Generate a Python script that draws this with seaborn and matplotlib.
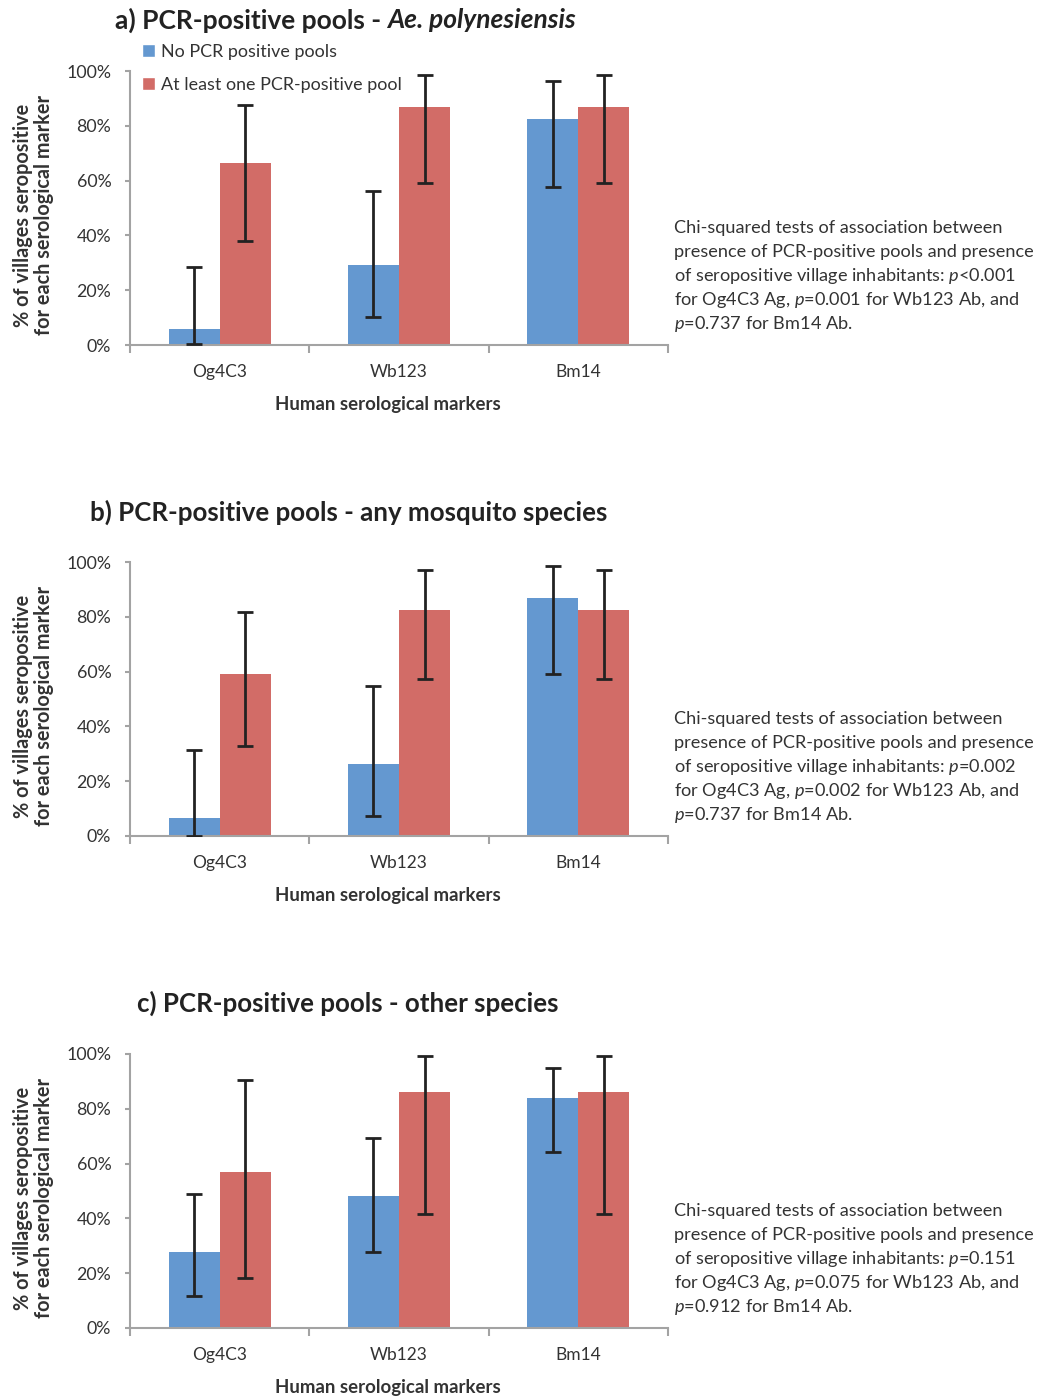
import numpy as np
import pandas as pd
import matplotlib
matplotlib.use("Agg")
import matplotlib.pyplot as plt
from matplotlib.patches import Patch
from matplotlib.ticker import FixedLocator, PercentFormatter
import seaborn as sns

sns.set_style("white")
plt.rcParams['font.family'] = ['Lato', 'DejaVu Sans']
plt.rcParams['mathtext.fontset'] = 'custom'
plt.rcParams['mathtext.rm'] = 'Lato'
plt.rcParams['mathtext.it'] = 'Lato:italic'
plt.rcParams['mathtext.bf'] = 'Lato:bold'

markers = ['Og4C3', 'Wb123', 'Bm14']
groups = ['No PCR positive pools', 'At least one PCR-positive pool']

# % seropositive villages, with lower / upper confidence limits
a_none = [5.9, 29.3, 82.4]
a_none_lo = [0.2, 10.4, 57.6]
a_none_hi = [28.3, 56.2, 96.3]
a_pos = [66.3, 86.8, 86.8]
a_pos_lo = [37.8, 59.1, 59.1]
a_pos_hi = [87.6, 98.5, 98.5]

b_none = [6.6, 26.3, 86.8]
b_none_lo = [0.0, 7.3, 59.1]
b_none_hi = [31.5, 54.8, 98.5]
b_pos = [59.1, 82.4, 82.4]
b_pos_lo = [32.9, 57.2, 57.2]
b_pos_hi = [81.7, 97.2, 97.2]

c_none = [27.7, 48.2, 83.9]
c_none_lo = [11.7, 27.8, 64.3]
c_none_hi = [48.9, 69.4, 94.8]
c_pos = [57.0, 86.2, 86.2]
c_pos_lo = [18.4, 41.6, 41.6]
c_pos_hi = [90.4, 99.3, 99.3]

pvals_a = [r'$\mathit{p}$<0.001', r'$\mathit{p}$=0.001', r'$\mathit{p}$=0.737']
pvals_b = [r'$\mathit{p}$=0.002', r'$\mathit{p}$=0.002', r'$\mathit{p}$=0.737']
pvals_c = [r'$\mathit{p}$=0.151', r'$\mathit{p}$=0.075', r'$\mathit{p}$=0.912']

blue = '#6498d0'
red = '#d26c67'
grey = '#a3a3a3'
txt = '#333333'

W, H = 1053, 1399
fig = plt.figure(figsize=(W / 100, H / 100), dpi=100)

panels = [
    (a_none, a_none_lo, a_none_hi, a_pos, a_pos_lo, a_pos_hi, pvals_a, 345),
    (b_none, b_none_lo, b_none_hi, b_pos, b_pos_lo, b_pos_hi, pvals_b, 836),
    (c_none, c_none_lo, c_none_hi, c_pos, c_pos_lo, c_pos_hi, pvals_c, 1328),
]

axes = []
for none, none_lo, none_hi, pos, pos_lo, pos_hi, pv, ybot in panels:
    ax = fig.add_axes([130 / W, 1 - ybot / H, 538 / W, 274 / H])
    axes.append(ax)
    df = pd.DataFrame({
        'marker': markers * 2,
        'group': [groups[0]] * 3 + [groups[1]] * 3,
        'value': np.array(none + pos) / 100,
    })
    sns.barplot(data=df, x='marker', y='value', hue='group', order=markers,
                hue_order=groups, palette=[blue, red], width=0.57,
                saturation=1, errorbar=None, legend=False, ax=ax, linewidth=0)

    lims = [(none, none_lo, none_hi), (pos, pos_lo, pos_hi)]
    for cont, (v, lo, hi) in zip(ax.containers, lims):
        v = np.array(v) / 100
        lo = np.array(lo) / 100
        hi = np.array(hi) / 100
        xs = [p.get_x() + p.get_width() / 2 for p in cont.patches]
        ax.errorbar(xs, v, yerr=[v - lo, hi - v], fmt='none', ecolor='#222222',
                    elinewidth=2, capsize=6, capthick=2, zorder=5)

    ax.set_xlim(-0.5, 2.5)
    ax.set_ylim(0, 1)
    ax.yaxis.set_major_locator(FixedLocator(np.arange(0, 1.01, 0.2)))
    ax.yaxis.set_major_formatter(PercentFormatter(1.0, decimals=0))
    ax.xaxis.set_minor_locator(FixedLocator([-0.5, 0.5, 1.5, 2.5]))
    ax.tick_params(axis='x', which='major', length=0, labelsize=12.5,
                   labelcolor=txt, pad=14)
    ax.tick_params(axis='x', which='minor', length=6, width=1.5, color=grey,
                   direction='out', bottom=True)
    ax.tick_params(axis='y', length=3.5, width=1.5, color=grey, direction='out',
                   left=True, labelsize=12.8, labelcolor=txt, pad=10)
    for s in ['top', 'right']:
        ax.spines[s].set_visible(False)
    for s in ['left', 'bottom']:
        ax.spines[s].set_color(grey)
        ax.spines[s].set_linewidth(1.5)

    ax.set_xlabel('Human serological markers', fontsize=13.4, fontweight='bold',
                  color=txt)
    ax.xaxis.set_label_coords(0.4796, -0.185)
    ax.set_ylabel('% of villages seropositive\nfor each serological marker',
                  fontsize=14.3, fontweight='bold', color=txt, linespacing=1.05)
    ax.yaxis.set_label_coords(-0.142, 0.473)

    body = ['Chi-squared tests of association between',
            'presence of PCR-positive pools and presence',
            f'of seropositive village inhabitants: {pv[0]}',
            f'for Og4C3 Ag, {pv[1]} for Wb123 Ab, and',
            f'{pv[2]} for Bm14 Ab.']
    for i, line in enumerate(body):
        fig.text(674 / W, 1 - (ybot - 112 + 24 * i) / H, line, fontsize=13.1,
                 color=txt, va='baseline', ha='left')

# panel titles
t1 = fig.text(115 / W, 1 - 20 / H, 'a) PCR-positive pools - ', fontsize=19,
              fontweight='bold', color='#222222', va='center', ha='left')
axes[0].annotate('Ae. polynesiensis', xy=(1, 0.5), xycoords=t1, va='center',
                 ha='left', fontsize=19, fontweight='bold', style='italic',
                 color='#222222', annotation_clip=False)
fig.text(349 / W, 1 - 512 / H, 'b) PCR-positive pools - any mosquito species',
         fontsize=18.6, fontweight='bold', color='#222222', va='center', ha='center')
fig.text(348 / W, 1 - 1003 / H, 'c) PCR-positive pools - other species',
         fontsize=18.6, fontweight='bold', color='#222222', va='center', ha='center')

handles = [Patch(facecolor=blue), Patch(facecolor=red)]
axes[0].legend(handles, groups, loc='upper left',
               bbox_to_anchor=(142 / W, 1 - 44 / H), bbox_transform=fig.transFigure,
               frameon=False, fontsize=12.9, handlelength=0.75, handleheight=0.75,
               handletextpad=0.3, labelspacing=0.95, borderpad=0, borderaxespad=0,
               labelcolor=txt)

fig.savefig('out.png', dpi=100)
